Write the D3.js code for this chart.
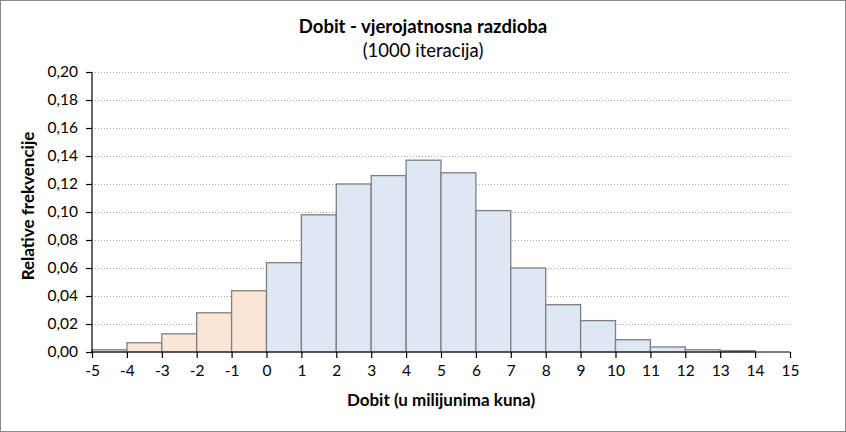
<!DOCTYPE html>
<html>
<head>
<meta charset="utf-8">
<script src="https://cdn.jsdelivr.net/npm/d3@7"></script>
<style>
  body { margin: 0; background: #fff; }
  svg text { font-family: Lato, "Open Sans", sans-serif; fill: #000; }
</style>
</head>
<body>
<svg id="chart" width="846" height="432"></svg>
<script>
// histogram bins (lower edge, in millions kn) and their relative frequencies
const binStarts = [-5, -4, -3, -2, -1, 0, 1, 2, 3, 4, 5, 6, 7, 8, 9, 10, 11, 12, 13];
const relFreq = [0.0016, 0.0066, 0.013, 0.028, 0.0438, 0.0638, 0.098, 0.120, 0.126, 0.137,
                 0.128, 0.101, 0.060, 0.0338, 0.0224, 0.0088, 0.0036, 0.0016, 0.0009];
const xTicks = d3.range(-5, 16, 1);
const yTicks = [0, 0.02, 0.04, 0.06, 0.08, 0.10, 0.12, 0.14, 0.16, 0.18, 0.20];

const W = 846, H = 432;
const margin = { top: 72, right: 56, bottom: 80, left: 92 };

const svg = d3.select("#chart");

// outer frame
svg.append("rect")
    .attr("x", 0.5).attr("y", 0.5)
    .attr("width", W - 1).attr("height", H - 1)
    .attr("fill", "#fff")
    .attr("stroke", "#898989");

const x = d3.scaleLinear().domain([-5, 15]).range([margin.left, W - margin.right]);
const y = d3.scaleLinear().domain([0, 0.2]).range([H - margin.bottom, margin.top]);

const fmt = d => d3.format(".2f")(d).replace(".", ",");

// dotted gridlines
svg.append("g")
    .selectAll("line")
    .data(yTicks.slice(1))
    .enter()
    .append("line")
    .attr("x1", x(-5)).attr("x2", x(15))
    .attr("y1", d => Math.round(y(d)) + 0.5)
    .attr("y2", d => Math.round(y(d)) + 0.5)
    .attr("stroke", "#a6a6a6")
    .attr("stroke-dasharray", "1,2");

// bars
svg.append("g")
    .selectAll("rect")
    .data(binStarts.map((s, i) => ({ s: s, v: relFreq[i] })))
    .enter()
    .append("rect")
    .attr("x", d => x(d.s))
    .attr("y", d => y(d.v))
    .attr("width", d => x(d.s + 1) - x(d.s))
    .attr("height", d => y(0) - y(d.v))
    .attr("fill", d => d.s < 0 ? "#fbe5d6" : "#dee8f4")
    .attr("stroke", "#7f7f7f")
    .attr("stroke-width", 1.3);

// axes
const yAxis = svg.append("g")
    .attr("transform", `translate(${x(-5)},0)`)
    .call(d3.axisLeft(y).tickValues(yTicks).tickFormat(fmt).tickSize(6).tickPadding(8));

const xAxis = svg.append("g")
    .attr("transform", `translate(0,${y(0)})`)
    .call(d3.axisBottom(x).tickValues(xTicks).tickFormat(d => String(d)).tickSize(6).tickPadding(7));

[yAxis, xAxis].forEach(a => {
    a.select(".domain").attr("stroke", "#000").attr("stroke-width", 1.2);
    a.selectAll(".tick line").attr("stroke", "#000").attr("stroke-width", 1.2);
    a.selectAll(".tick text").attr("font-size", 15.5).attr("fill", "#000")
        .style("font-family", "Lato, 'Open Sans', sans-serif");
});
xAxis.select(".domain").attr("d", `M${x(-5)},0H${x(15)}`);
yAxis.select(".domain").attr("d", `M0,${y(0)}V${y(0.2)}`);

// titles
svg.append("text")
    .attr("x", W / 2).attr("y", 33)
    .attr("text-anchor", "middle")
    .attr("font-size", 18.5).attr("font-weight", "bold")
    .text("Dobit - vjerojatnosna razdioba");

svg.append("text")
    .attr("x", W / 2).attr("y", 57)
    .attr("text-anchor", "middle")
    .attr("font-size", 18.5)
    .text("(1000 iteracija)");

svg.append("text")
    .attr("x", (x(-5) + x(15)) / 2).attr("y", 406)
    .attr("text-anchor", "middle")
    .attr("font-size", 17).attr("font-weight", "bold")
    .text("Dobit (u milijunima kuna)");

svg.append("text")
    .attr("transform", `translate(34,${(y(0) + y(0.2)) / 2 - 6}) rotate(-90)`)
    .attr("text-anchor", "middle")
    .attr("font-size", 17).attr("font-weight", "bold")
    .text("Relative frekvencije");
</script>
</body>
</html>
